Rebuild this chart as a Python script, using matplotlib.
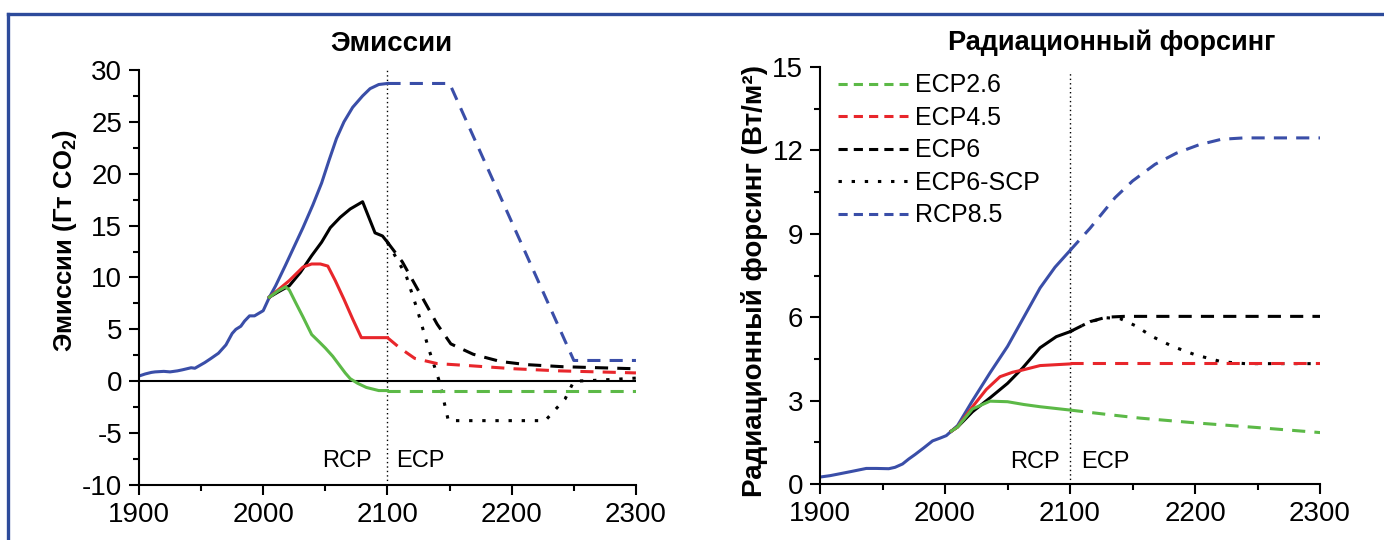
import matplotlib
matplotlib.use('Agg')
import matplotlib.pyplot as plt
from matplotlib.lines import Line2D
from matplotlib.ticker import MultipleLocator

plt.rcParams['font.family'] = ['Liberation Sans', 'DejaVu Sans']
plt.rcParams['axes.unicode_minus'] = False

BLUE = '#3a4ea8'
RED = '#e8262b'
GREEN = '#5cb947'
BLACK = '#000000'

# --- Emissions (left panel) ---
hist_yr = [1900, 1905, 1910, 1913, 1920, 1925, 1931, 1935, 1942, 1945, 1953, 1958,
           1964, 1970, 1975, 1978, 1982, 1985, 1989, 1993, 2000, 2005]
hist_em = [0.5, 0.7, 0.85, 0.9, 0.95, 0.9, 1.0, 1.1, 1.3, 1.25, 1.8, 2.2,
           2.7, 3.5, 4.6, 5.0, 5.3, 5.8, 6.3, 6.3, 6.8, 8.1]

rcp85_yr = [2005, 2010, 2018, 2025, 2032, 2040, 2047, 2053, 2059, 2065, 2072, 2080, 2086, 2093, 2100]
rcp85_em = [8.1, 9.2, 11.2, 13.0, 14.8, 17.0, 19.1, 21.3, 23.4, 25.0, 26.4, 27.5, 28.2, 28.6, 28.7]
ecp85_yr = [2100, 2150, 2250, 2300]
ecp85_em = [28.7, 28.7, 2.0, 2.0]

rcp6_yr = [2005, 2012, 2021, 2030, 2039, 2047, 2054, 2062, 2070, 2080, 2090, 2096, 2100]
rcp6_em = [8.1, 8.6, 9.2, 10.5, 12.1, 13.4, 14.8, 15.8, 16.6, 17.3, 14.3, 14.0, 13.4]
ecp6_yr = [2100, 2112, 2126, 2140, 2151, 2169, 2191, 2212, 2241, 2300]
ecp6_em = [13.4, 11.5, 8.5, 5.5, 3.6, 2.6, 1.9, 1.6, 1.4, 1.2]
scp6_yr = [2100, 2115, 2124, 2133, 2142, 2149, 2227, 2243, 2250, 2270, 2300]
scp6_em = [13.4, 10.2, 6.9, 3.2, -0.1, -3.8, -3.8, -1.7, 0.0, 0.1, 0.3]

rcp45_yr = [2005, 2012, 2021, 2032, 2039, 2046, 2052, 2058, 2065, 2072, 2079, 2100]
rcp45_em = [8.1, 8.8, 9.7, 11.0, 11.3, 11.3, 11.1, 9.7, 7.9, 6.0, 4.2, 4.2]
ecp45_yr = [2100, 2110, 2122, 2140, 2166, 2202, 2238, 2300]
ecp45_em = [4.2, 3.2, 2.2, 1.7, 1.5, 1.2, 1.0, 0.8]

rcp26_yr = [2005, 2012, 2018, 2021, 2026, 2032, 2039, 2045, 2050, 2056, 2061, 2066, 2070,
            2076, 2083, 2093, 2100]
rcp26_em = [8.1, 8.7, 9.1, 8.8, 7.6, 6.2, 4.5, 3.8, 3.2, 2.4, 1.6, 0.8, 0.25,
            -0.2, -0.6, -0.9, -0.9]
ecp26_yr = [2100, 2300]
ecp26_em = [-0.9, -0.9]

# --- Radiative forcing (right panel) ---
hist_f_yr = [1900, 1908, 1916, 1925, 1937, 1945, 1955, 1960, 1966, 1971, 1976, 1983,
             1990, 1996, 2001, 2005]
hist_f = [0.25, 0.3, 0.37, 0.45, 0.56, 0.56, 0.55, 0.6, 0.72, 0.9, 1.06, 1.3,
          1.55, 1.65, 1.74, 1.9]

rcp85_f_yr = [2005, 2010, 2022, 2036, 2050, 2063, 2076, 2088, 2100]
rcp85_f = [1.9, 2.1, 3.0, 4.0, 4.95, 6.0, 7.05, 7.8, 8.4]
ecp85_f_yr = [2100, 2108, 2116, 2136, 2150, 2168, 2185, 2203, 2221, 2239, 2300]
ecp85_f = [8.4, 8.8, 9.2, 10.3, 10.9, 11.5, 11.9, 12.2, 12.4, 12.45, 12.45]

rcp6_f_yr = [2005, 2010, 2022, 2036, 2050, 2062, 2076, 2089, 2100]
rcp6_f = [1.9, 2.05, 2.6, 3.1, 3.62, 4.17, 4.9, 5.3, 5.48]
ecp6_f_yr = [2100, 2116, 2129, 2143, 2300]
ecp6_f = [5.48, 5.84, 6.0, 6.03, 6.03]
scp6_f_yr = [2100, 2116, 2129, 2140, 2152, 2166, 2182, 2200, 2221, 2240, 2300]
scp6_f = [5.48, 5.84, 5.98, 5.95, 5.7, 5.3, 4.95, 4.65, 4.4, 4.33, 4.33]

rcp45_f_yr = [2005, 2010, 2022, 2033, 2044, 2054, 2062, 2076, 2100]
rcp45_f = [1.9, 2.05, 2.78, 3.4, 3.86, 4.02, 4.1, 4.26, 4.32]
ecp45_f_yr = [2100, 2300]
ecp45_f = [4.34, 4.34]

rcp26_f_yr = [2005, 2010, 2022, 2036, 2050, 2063, 2076, 2100]
rcp26_f = [1.9, 2.05, 2.7, 2.98, 2.96, 2.86, 2.78, 2.66]
ecp26_f_yr = [2100, 2130, 2156, 2200, 2250, 2300]
ecp26_f = [2.66, 2.5, 2.37, 2.2, 2.03, 1.85]

legend_labels = ['ECP2.6', 'ECP4.5', 'ECP6', 'ECP6-SCP', 'RCP8.5']

LW = 2.2
DASH = (4.3, 3.0)
DOT = (1.1, 3.2)

fig = plt.figure(figsize=(13.84, 5.4), dpi=100)
axL = fig.add_axes([0.1004, 0.1019, 0.3591, 0.7685])
axR = fig.add_axes([0.5925, 0.1037, 0.3613, 0.7722])

for ax in (axL, axR):
    ax.spines['top'].set_visible(False)
    ax.spines['right'].set_visible(False)
    for s in ('left', 'bottom'):
        ax.spines[s].set_linewidth(1.5)
    ax.tick_params(which='major', direction='out', length=7, width=1.5,
                   labelsize=20, pad=5)
    ax.tick_params(which='minor', direction='out', length=4.5, width=1.5)
    ax.set_xlim(1900, 2300)
    ax.xaxis.set_major_locator(MultipleLocator(100))
    ax.xaxis.set_minor_locator(MultipleLocator(50))

# left panel
axL.set_ylim(-10, 30)
axL.yaxis.set_major_locator(MultipleLocator(5))
axL.yaxis.set_minor_locator(MultipleLocator(2.5))
axL.plot([1900, 2300], [0, 0], color=BLACK, lw=1.5, zorder=1)
axL.plot([2100, 2100], [-10, 30], color=BLACK, lw=1.0, ls=(0, (1, 2.2)), zorder=1)

axL.plot(hist_yr, hist_em, color=BLUE, lw=LW)
axL.plot(rcp85_yr, rcp85_em, color=BLUE, lw=LW)
axL.plot(ecp85_yr, ecp85_em, color=BLUE, lw=LW, ls=(0, DASH))
axL.plot(rcp6_yr, rcp6_em, color=BLACK, lw=LW)
axL.plot(ecp6_yr, ecp6_em, color=BLACK, lw=LW, ls=(0, DASH))
axL.plot(scp6_yr, scp6_em, color=BLACK, lw=LW, ls=(0, DOT))
axL.plot(rcp45_yr, rcp45_em, color=RED, lw=LW)
axL.plot(ecp45_yr, ecp45_em, color=RED, lw=LW, ls=(0, DASH))
axL.plot(rcp26_yr, rcp26_em, color=GREEN, lw=LW)
axL.plot(ecp26_yr, ecp26_em, color=GREEN, lw=LW, ls=(0, DASH))

axL.text(2087, -7.7, 'RCP', fontsize=17, ha='right', va='center')
axL.text(2107, -7.7, 'ECP', fontsize=17, ha='left', va='center')

# right panel
axR.set_ylim(0, 15)
axR.yaxis.set_major_locator(MultipleLocator(3))
axR.yaxis.set_minor_locator(MultipleLocator(1.5))
axR.plot([2100, 2100], [0, 14.8], color=BLACK, lw=1.0, ls=(0, (1, 2.2)), zorder=1)

axR.plot(hist_f_yr, hist_f, color=BLUE, lw=LW)
axR.plot(rcp85_f_yr, rcp85_f, color=BLUE, lw=LW)
axR.plot(ecp85_f_yr, ecp85_f, color=BLUE, lw=LW, ls=(0, DASH))
axR.plot(rcp6_f_yr, rcp6_f, color=BLACK, lw=LW)
axR.plot(ecp6_f_yr, ecp6_f, color=BLACK, lw=LW, ls=(0, DASH))
axR.plot(scp6_f_yr, scp6_f, color=BLACK, lw=LW, ls=(0, DOT))
axR.plot(rcp45_f_yr, rcp45_f, color=RED, lw=LW)
axR.plot(ecp45_f_yr, ecp45_f, color=RED, lw=LW, ls=(0, DASH))
axR.plot(rcp26_f_yr, rcp26_f, color=GREEN, lw=LW)
axR.plot(ecp26_f_yr, ecp26_f, color=GREEN, lw=LW, ls=(0, DASH))

axR.text(2092, 0.8, 'RCP', fontsize=17, ha='right', va='center')
axR.text(2109, 0.8, 'ECP', fontsize=17, ha='left', va='center')

handles = [
    Line2D([], [], color=GREEN, lw=LW, ls=(0, (3, 2))),
    Line2D([], [], color=RED, lw=LW, ls=(0, (3, 2))),
    Line2D([], [], color=BLACK, lw=LW, ls=(0, (3, 2))),
    Line2D([], [], color=BLACK, lw=LW, ls=(0, DOT)),
    Line2D([], [], color=BLUE, lw=LW, ls=(0, (3, 2))),
]
axR.legend(handles, legend_labels, loc='upper left', bbox_to_anchor=(0.035, 0.985),
           frameon=False, fontsize=18, handlelength=2.8, handletextpad=0.3,
           labelspacing=0.34, borderpad=0, borderaxespad=0)

# titles and axis labels
fig.text(0.2825, 0.918, 'Эмиссии', fontsize=20, fontweight='bold', ha='center', va='center')
fig.text(0.8035, 0.921, 'Радиационный форсинг', fontsize=19.5, fontweight='bold',
         ha='center', va='center')
fig.text(0.047, 0.554, 'Эмиссии (Гт CO$_\\mathregular{2}$)', fontsize=18.5, fontweight='bold',
         rotation=90, ha='center', va='center')
fig.text(0.545, 0.479, 'Радиационный форсинг (Вт/м²)', fontsize=20, fontweight='bold',
         rotation=90, ha='center', va='center')

# blue frame (top and left edge)
frame_kw = dict(color='#2d4b9b', lw=2.4, transform=fig.transFigure)
fig.add_artist(Line2D([8 / 1384, 1.0], [1 - 14 / 540, 1 - 14 / 540], **frame_kw))
fig.add_artist(Line2D([8 / 1384, 8 / 1384], [0.0, 1 - 14 / 540], **frame_kw))

fig.savefig('out.png', dpi=100)
